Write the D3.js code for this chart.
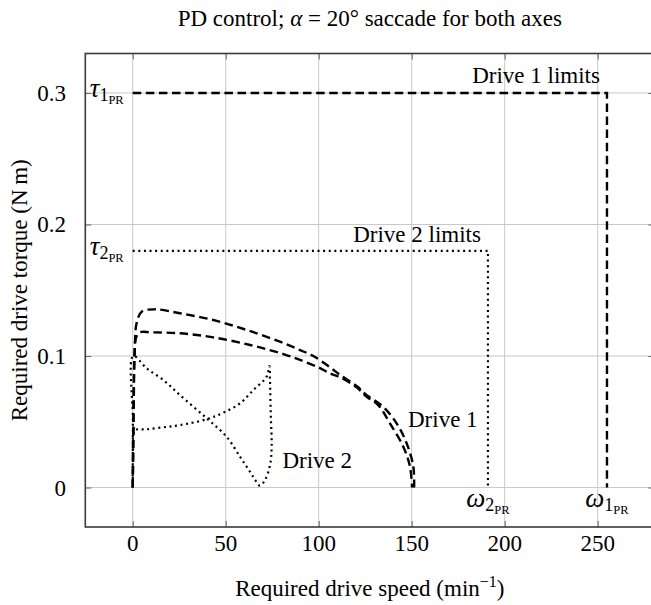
<!DOCTYPE html>
<html><head><meta charset="utf-8">
<script src="https://cdn.jsdelivr.net/npm/d3@7"></script>
<style>
body{margin:0;background:#fff}
text{font-family:"Liberation Serif","Times New Roman",serif;fill:#000}
</style>
</head><body>
<svg id="chart" width="651" height="605"></svg>
<script>
// ---------- data ----------
const xTicks = [0, 50, 100, 150, 200, 250];
const xTickLabels = ["0", "50", "100", "150", "200", "250"];
const yTicks = [0, 0.1, 0.2, 0.3];
const yTickLabels = ["0", "0.1", "0.2", "0.3"];

// Drive 1 trajectory (outer and inner branch of the loop)
const drive1OuterSpeed  = [0, 0.2, 0.4, 0.7, 1.2, 2.1, 4.8, 12, 25.4, 43.3, 61.3, 79.1, 90, 97.1, 106.1, 111.5, 120.4, 126, 134.7, 141.9, 147.3, 150.9, 151.3];
const drive1OuterTorque = [0, 0.03, 0.06, 0.09, 0.11, 0.125, 0.1337, 0.1355, 0.1325, 0.1274, 0.1198, 0.1109, 0.1045, 0.1, 0.0914, 0.0856, 0.0772, 0.07, 0.0614, 0.0488, 0.0336, 0.0158, 0];
const drive1InnerSpeed  = [0, 0.3, 0.6, 1, 1.8, 3.9, 10, 25.4, 43.3, 63.1, 81, 90, 99.8, 106.1, 111.5, 120.4, 125.8, 132, 138.3, 145.5, 149.1, 150.2];
const drive1InnerTorque = [0, 0.03, 0.07, 0.1, 0.114, 0.118, 0.118, 0.1173, 0.1142, 0.1084, 0.1015, 0.097, 0.0914, 0.0868, 0.0838, 0.0762, 0.069, 0.0627, 0.0488, 0.031, 0.0158, 0];

// Drive 2 trajectory
const drive2Speed  = [0, 0.1, 0.3, 7.5, 16.5, 25.4, 39.8, 50.5, 57.7, 61.3, 64.8, 68.4, 71.1, 73.8, 74.7, 74.2, 73.8, 73.5, 72, 64.8, 57.7, 48.7, 39.8, 25.4, 16.5, 7.5, 1.2, 0.3, 0.1, 0];
const drive2Torque = [0, 0.05, 0.1, 0.0906, 0.0817, 0.0703, 0.0526, 0.0386, 0.0234, 0.0158, 0.0082, 0.0015, 0.0057, 0.017, 0.031, 0.0564, 0.0817, 0.0924, 0.0843, 0.0741, 0.064, 0.0569, 0.0519, 0.0475, 0.0458, 0.0443, 0.0437, 0.04, 0.02, 0];

// Drive limits (rated torque / rated speed)
const drive1LimitSpeed  = [0, 255, 255];
const drive1LimitTorque = [0.3, 0.3, 0];
const drive2LimitSpeed  = [0, 191, 191];
const drive2LimitTorque = [0.18, 0.18, 0];

// ---------- layout ----------
const svg = d3.select("#chart");
const FS = 23;
const x = d3.scaleLinear().domain([-25.5, 280.5]).range([85.3, 654.4]);
const y = d3.scaleLinear().domain([-0.03, 0.33]).range([527, 53.5]);
const [x0, x1] = x.range();
const [yB, yT] = y.range();

// grid
const g = svg.append("g");
g.selectAll(".gx").data(xTicks).join("line")
  .attr("x1", d => x(d)).attr("x2", d => x(d)).attr("y1", yT).attr("y2", yB)
  .attr("stroke", "#c8c8c8").attr("stroke-width", 1);
g.selectAll(".gy").data(yTicks).join("line")
  .attr("y1", d => y(d)).attr("y2", d => y(d)).attr("x1", x0).attr("x2", x1)
  .attr("stroke", "#c8c8c8").attr("stroke-width", 1);

// axes via d3-axis (inner ticks on all four sides)
const axB = d3.axisBottom(x).tickValues(xTicks).tickSize(-6).tickFormat("");
const axT = d3.axisTop(x).tickValues(xTicks).tickSize(-6).tickFormat("");
const axL = d3.axisLeft(y).tickValues(yTicks).tickSize(-6).tickFormat("");
const axR = d3.axisRight(y).tickValues(yTicks).tickSize(-6).tickFormat("");
[[axB, `translate(0,${yB})`], [axT, `translate(0,${yT})`], [axL, `translate(${x0},0)`], [axR, `translate(${x1},0)`]]
  .forEach(([a, t]) => {
    const ga = svg.append("g").attr("transform", t).call(a);
    ga.select(".domain").remove();
    ga.selectAll(".tick line").attr("stroke", "#666").attr("stroke-width", 1);
  });

// tick labels
svg.append("g").selectAll("text").data(xTicks).join("text")
  .attr("x", d => x(d)).attr("y", 551).attr("text-anchor", "middle")
  .attr("font-size", FS).text((d, i) => xTickLabels[i]);
svg.append("g").selectAll("text").data(yTicks).join("text")
  .attr("x", 66).attr("y", d => y(d) + 8).attr("text-anchor", "end")
  .attr("font-size", FS).text((d, i) => yTickLabels[i]);

// curves
const zip = (a, b) => a.map((v, i) => [v, b[i]]);
const line = d3.line().x(d => x(d[0])).y(d => y(d[1])).curve(d3.curveCatmullRom.alpha(0.5));
const lineLin = d3.line().x(d => x(d[0])).y(d => y(d[1]));

const DASH = "8.5 4.6", DOT = "2 3.6";
svg.append("path").attr("d", lineLin(zip(drive1LimitSpeed, drive1LimitTorque)))
  .attr("fill", "none").attr("stroke", "#000").attr("stroke-width", 2.4).attr("stroke-dasharray", DASH);
svg.append("path").attr("d", lineLin(zip(drive2LimitSpeed, drive2LimitTorque)))
  .attr("fill", "none").attr("stroke", "#000").attr("stroke-width", 2.2).attr("stroke-dasharray", DOT);
svg.append("path").attr("d", line(zip(drive1OuterSpeed, drive1OuterTorque)))
  .attr("fill", "none").attr("stroke", "#000").attr("stroke-width", 2.4).attr("stroke-dasharray", DASH);
svg.append("path").attr("d", line(zip(drive1InnerSpeed, drive1InnerTorque)))
  .attr("fill", "none").attr("stroke", "#000").attr("stroke-width", 2.4).attr("stroke-dasharray", DASH);
svg.append("path").attr("d", line(zip(drive2Speed, drive2Torque)))
  .attr("fill", "none").attr("stroke", "#000").attr("stroke-width", 2.2).attr("stroke-dasharray", DOT);

// frame
svg.append("rect").attr("x", x0).attr("y", yT).attr("width", x1 - x0).attr("height", yB - yT)
  .attr("fill", "none").attr("stroke", "#3a3a3a").attr("stroke-width", 1.6);

// annotations
function symLabel(sym, sub1, sub2, xa, yb, anchor) {
  const t = svg.append("text").attr("x", xa).attr("y", yb).attr("font-size", 27).attr("text-anchor", anchor);
  t.append("tspan").attr("font-style", "italic").text(sym);
  t.append("tspan").attr("font-size", 18).attr("dy", 4).text(sub1);
  t.append("tspan").attr("font-size", 12.5).attr("dy", 3.5).text(sub2);
  return t;
}
symLabel("τ", "1", "PR", x(0) - 9, y(0.3) + 4, "end");
symLabel("τ", "2", "PR", x(0) - 9, y(0.18) + 4, "end");
symLabel("ω", "2", "PR", x(191), y(0) + 19, "middle");
symLabel("ω", "1", "PR", x(255), y(0) + 19, "middle");

svg.append("text").attr("x", x(255) - 7).attr("y", y(0.3) - 10).attr("text-anchor", "end")
  .attr("font-size", FS).text("Drive 1 limits");
svg.append("text").attr("x", x(191) - 7).attr("y", y(0.18) - 9).attr("text-anchor", "end")
  .attr("font-size", FS).text("Drive 2 limits");
svg.append("text").attr("x", x(148)).attr("y", y(0.046)).attr("font-size", FS).text("Drive 1");
svg.append("text").attr("x", x(80.5)).attr("y", y(0.015)).attr("font-size", FS).text("Drive 2");

// title
const tt = svg.append("text").attr("x", (x0 + x1) / 2).attr("y", 26).attr("text-anchor", "middle").attr("font-size", FS);
tt.append("tspan").text("PD control; ");
tt.append("tspan").attr("font-style", "italic").text("α");
tt.append("tspan").text(" = 20° saccade for both axes");

// axis titles
const xt = svg.append("text").attr("x", (x0 + x1) / 2).attr("y", 596).attr("text-anchor", "middle").attr("font-size", FS);
xt.append("tspan").text("Required drive speed (min");
xt.append("tspan").attr("font-size", 16).attr("dy", -9).text("−1");
xt.append("tspan").attr("dy", 9).text(")");

svg.append("text").attr("transform", `translate(27,${(yT + yB) / 2}) rotate(-90)`)
  .attr("text-anchor", "middle").attr("font-size", FS).text("Required drive torque (N\u2009m)");
</script>
</body></html>
